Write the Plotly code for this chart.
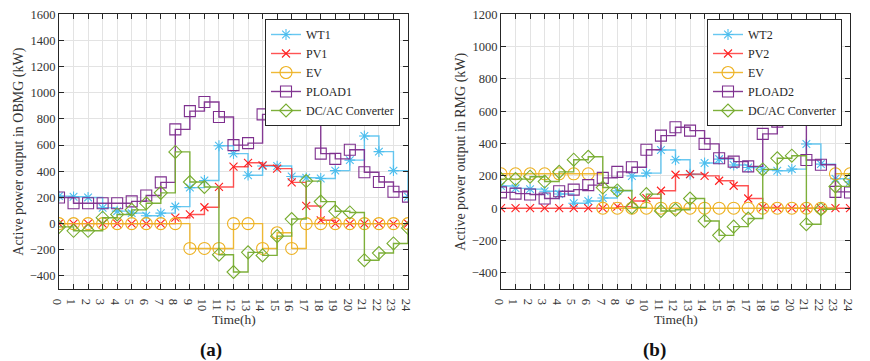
import plotly.graph_objects as go

hours = list(range(25))

# Microgrid (a): OBMG
wt1 = [210, 205, 200, 120, 95, 80, 60, 80, 130, 275, 330, 595, 535, 370, 440, 440,
       360, 350, 345, 405, 485, 670, 550, 405, 205]
pv1 = [0, 0, 0, 0, 0, 0, 0, 0, 45, 70, 125, 280, 435, 465, 445, 420,
       315, 135, 25, 0, 0, 0, 0, 0, 0]
ev1 = [0, 0, 0, 0, 0, 0, 0, 0, 0, -190, -190, -190, 0, 0, -190, -70,
       -190, 0, 0, 0, 0, 0, 0, 0, 0]
pload1 = [200, 155, 155, 155, 155, 170, 215, 315, 720, 860, 930, 815, 600, 615, 835, 835,
          890, 810, 535, 495, 565, 393, 318, 243, 206]
conv1 = [-25, -55, -55, 45, 70, 105, 155, 235, 548, 318, 280, -238, -370, -220, -243, -96,
         35, 325, 168, 94, 85, -280, -225, -152, -33]

# Microgrid (b): RMG
wt2 = [137, 123, 118, 105, 88, 31, 45, 63, 107, 199, 217, 360, 300, 210, 280, 304,
       267, 252, 238, 232, 242, 397, 273, 182, 163]
pv2 = [0, 0, 0, 0, 0, 0, 0, 0, 10, 45, 62, 108, 207, 211, 200, 170,
       139, 60, 5, 0, 0, 0, 0, 0, 0]
ev2 = [213, 213, 213, 213, 213, 213, 213, 0, 0, 0, 0, 0, 0, 0, 0, 0,
       0, 0, 0, 0, 0, 0, 0, 213, 213]
pload2 = [98, 90, 85, 60, 105, 115, 143, 188, 225, 253, 362, 449, 501, 480, 398, 309,
          288, 259, 460, 536, 570, 298, 269, 101, 97]
conv2 = [180, 180, 195, 165, 225, 300, 318, 128, 110, 5, 87, -17, -10, 60, -79, -168,
         -114, -64, 240, 309, 325, -99, -6, 135, 176]

left_names = ["WT1", "PV1", "EV", "PLOAD1", "DC/AC Converter"]
right_names = ["WT2", "PV2", "EV", "PLOAD2", "DC/AC Converter"]

colors = ["#4DBEEE", "#FF1F1F", "#EDB120", "#7E2F8E", "#77AC30"]
line_colors = ["rgba(77,190,238,0.85)", "rgba(255,40,40,0.8)", "rgba(237,177,32,0.9)",
               "rgba(126,47,142,0.95)", "rgba(119,172,48,0.95)"]
symbols = ["asterisk-open", "x-thin-open", "circle-open", "square-open", "diamond-open"]
sizes = [9, 8, 12, 11, 10]

FONT = "Liberation Serif, Times New Roman, serif"
TXT = "#262626"
fig = go.Figure()

def add_set(series, names, xa, ya, legend):
    for i, (vals, name) in enumerate(zip(series, names)):
        fig.add_trace(go.Scatter(
            x=hours, y=vals, name=name, mode="lines+markers",
            line=dict(shape="hv", color=line_colors[i], width=1.4),
            marker=dict(symbol=symbols[i], size=sizes[i], color=colors[i],
                        line=dict(color=colors[i], width=1.1)),
            xaxis=xa, yaxis=ya, legend=legend,
        ))

add_set([wt1, pv1, ev1, pload1, conv1], left_names, "x", "y", "legend")
add_set([wt2, pv2, ev2, pload2, conv2], right_names, "x2", "y2", "legend2")

W, H = 870, 361
y_dom = [1 - 289 / H, 1 - 14.3 / H]
x_dom1 = [59 / W, 408 / W]
x_dom2 = [501 / W, 850 / W]

axis_common = dict(
    showline=True, linecolor=TXT, linewidth=1, mirror="ticks",
    ticks="inside", ticklen=5, tickcolor=TXT, tickwidth=1,
    showgrid=True, gridcolor="#E3E3E3", gridwidth=1, zeroline=False,
    tickfont=dict(family=FONT, size=12.5, color="#333333"),
    automargin=False,
)

legend_common = dict(
    yanchor="top", xanchor="right", bgcolor="white", bordercolor=TXT, borderwidth=1,
    font=dict(family=FONT, size=12, color=TXT), tracegroupgap=0, itemwidth=30,
)

fig.update_layout(
    width=W, height=H, margin=dict(l=0, r=0, t=0, b=0),
    paper_bgcolor="white", plot_bgcolor="white",
    font=dict(family=FONT, color=TXT),
    xaxis=dict(domain=x_dom1, anchor="y", range=[0, 24], tickmode="array",
               tickvals=hours, ticktext=[str(h) for h in hours], **axis_common),
    yaxis=dict(domain=y_dom, anchor="x", range=[-500, 1600], tickmode="array",
               tickvals=list(range(-400, 1601, 200)), **axis_common),
    xaxis2=dict(domain=x_dom2, anchor="y2", range=[0, 24], tickmode="array",
                tickvals=hours, ticktext=[str(h) for h in hours], **axis_common),
    yaxis2=dict(domain=y_dom, anchor="x2", range=[-500, 1200], tickmode="array",
                tickvals=list(range(-400, 1201, 200)), **axis_common),
    legend=dict(x=400 / W, y=1 - 19 / H, **legend_common),
    legend2=dict(x=842 / W, y=1 - 19 / H, **legend_common),
    showlegend=True,
)

def label(text, px, py, size, angle=0, color=TXT):
    return dict(text=text, x=px / W, y=1 - py / H, xref="paper", yref="paper",
                xanchor="center", yanchor="middle", textangle=angle, showarrow=False,
                font=dict(family=FONT, size=size, color=color))

fig.update_layout(annotations=[
    label("Active power output in OBMG (kW)", 19, 151.7, 14, -90, "#333333"),
    label("Active power output in RMG (kW)", 461, 151.7, 14, -90, "#333333"),
    label("Time(h)", 233.5, 319, 13.5, 0, "#333333"),
    label("Time(h)", 675.5, 319, 13.5, 0, "#333333"),
    label("<b>(a)</b>", 211, 350, 19, color="#111111"),
    label("<b>(b)</b>", 654, 350, 19, color="#111111"),
])

fig.write_html("out.html")
